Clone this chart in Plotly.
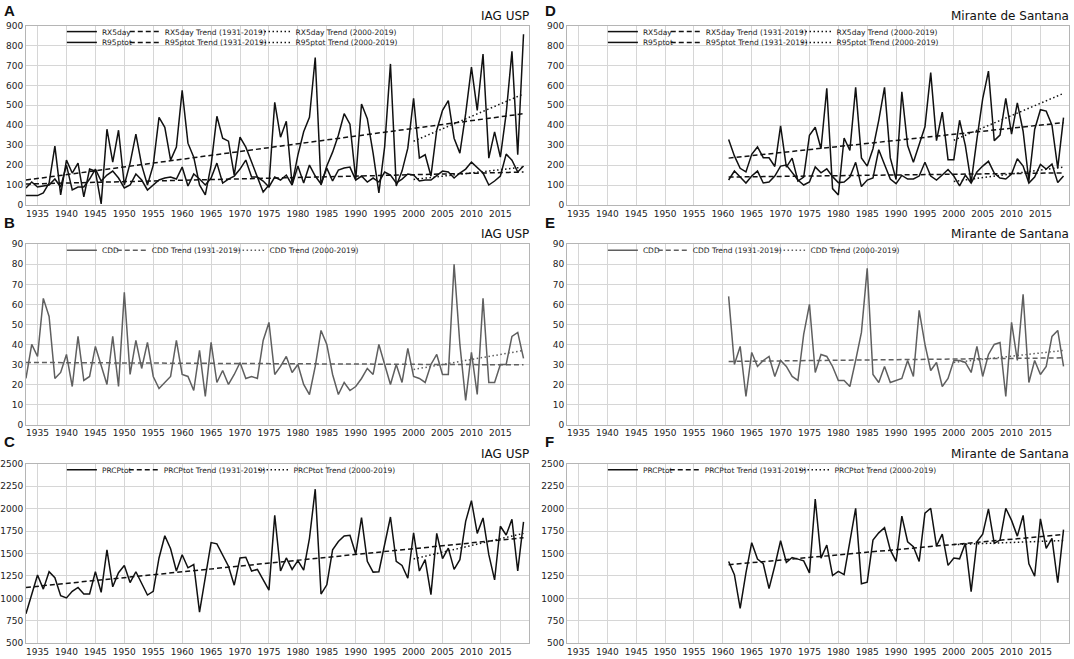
import plotly.graph_objects as go

W, H = 1074, 659

years_iag = list(range(1933, 2020))
years_mir = list(range(1961, 2020))
tick_years = list(range(1935, 2020, 5))
full_iag = [1933, 2019]
full_mir = [1961, 2019]
recent = [2000, 2019]

# --- A: IAG USP, RX5day / R95ptot (1933-2019)
rx5day_iag = [
    85, 115, 90, 95, 100, 130, 90,                      # 1933-1939
    200, 75, 90, 90, 130, 180, 120, 150, 170, 135,      # 1940s
    85, 100, 155, 125, 75, 100, 125, 135, 140, 130,     # 1950s
    190, 95, 155, 130, 100, 135, 210, 110, 130, 145,    # 1960s
    180, 225, 140, 140, 120, 90, 140, 125, 150, 100,    # 1970s
    195, 110, 200, 145, 105, 185, 120, 175, 185, 190,   # 1980s
    125, 145, 115, 135, 115, 165, 150, 110, 130, 155,   # 1990s
    150, 120, 125, 125, 150, 170, 165, 135, 160, 180,   # 2000s
    215, 185, 160, 100, 120, 145, 255, 225, 165, 195,   # 2010s
]
r95ptot_iag = [
    47, 48, 47, 60, 110, 295, 50,
    225, 160, 210, 40, 180, 170, 5, 380, 215, 375,
    100, 210, 355, 200, 100, 200, 440, 390, 225, 290,
    575, 310, 240, 100, 50, 200, 445, 335, 320, 150,
    340, 290, 215, 140, 65, 100, 515, 340, 420, 104,
    250, 367, 440, 740, 100, 195, 265, 350, 458, 405,
    128, 507, 433, 260, 60, 293, 708, 95, 170, 285,
    535, 235, 252, 145, 375, 475, 524, 335, 260, 458,
    692, 475, 758, 235, 367, 240, 458, 771, 252, 857,
]
rx5day_trend_iag = [105, 165]
r95ptot_trend_iag = [125, 458]
rx5day_recent_iag = [128, 190]
r95ptot_recent_iag = [320, 557]

# --- D: Mirante de Santana, RX5day / R95ptot (1961-2019)
rx5day_mir = [
    125, 170, 140, 110, 145, 170, 110, 115, 145, 195,
    200, 165, 125, 100, 115, 191, 161, 181, 142, 112,
    115, 140, 214, 92, 125, 135, 277, 203, 130, 107,
    148, 130, 130, 145, 214, 145, 125, 150, 178, 145,
    96, 150, 110, 165, 195, 219, 160, 135, 130, 155,
    232, 195, 110, 140, 203, 180, 205, 112, 145,
]
r95ptot_mir = [
    328, 246, 184, 166, 254, 291, 237, 237, 193, 397,
    190, 235, 120, 140, 350, 390, 282, 585, 82, 50,
    336, 273, 590, 236, 195, 282, 425, 590, 236, 128,
    568, 298, 214, 300, 392, 664, 323, 466, 227, 227,
    425, 298, 112, 330, 532, 672, 323, 351, 535, 356,
    512, 370, 120, 379, 478, 471, 400, 185, 438,
]
rx5day_trend_mir = [140, 161]
r95ptot_trend_mir = [235, 413]
rx5day_recent_mir = [118, 190]
r95ptot_recent_mir = [325, 560]

# --- B: IAG USP, CDD
cdd_iag = [
    23, 40, 34, 63, 54, 23, 26,
    35, 19, 44, 22, 24, 39, 30, 20, 44, 19,
    66, 25, 42, 28, 41, 24, 18, 21, 24, 42,
    25, 24, 17, 37, 14, 41, 21, 27, 20, 25,
    31, 23, 24, 23, 42, 51, 25, 29, 34, 26,
    30, 20, 15, 29, 47, 40, 25, 15, 21, 17,
    19, 23, 28, 25, 40, 30, 20, 30, 21, 38,
    24, 23, 21, 30, 35, 25, 25, 80, 40, 12,
    36, 15, 63, 21, 21, 30, 30, 44, 46, 33,
]
cdd_trend_iag = [31, 29.8]
cdd_recent_iag = [27.5, 37]

# --- E: Mirante de Santana, CDD
cdd_mir = [
    64, 30, 39, 14, 36, 29, 32, 34, 24, 32,
    29, 24, 22, 45, 60, 26, 35, 34, 29, 22,
    22, 19, 32, 46, 78, 25, 21, 29, 21, 22,
    23, 32, 24, 57, 40, 27, 31, 19, 23, 32,
    32, 31, 26, 39, 24, 35, 40, 41, 14, 51,
    32, 65, 21, 32, 25, 29, 44, 47, 29,
]
cdd_trend_mir = [31.5, 33.3]
cdd_recent_mir = [31, 37]

# --- C: IAG USP, PRCPtot
prcptot_iag = [
    829, 1048, 1260, 1103, 1297, 1231, 1030,
    1005, 1078, 1122, 1048, 1048, 1297, 1067, 1542, 1129, 1286,
    1367, 1176, 1297, 1176, 1037, 1078, 1451, 1699, 1553, 1305,
    1487, 1341, 1378, 847, 1213, 1622, 1608, 1487, 1359, 1147,
    1451, 1458, 1305, 1323, 1206, 1092, 1926, 1305, 1451, 1323,
    1421, 1315, 1670, 2218, 1048, 1151, 1542, 1634, 1696, 1703,
    1494, 1900, 1414, 1293, 1297, 1615, 1908, 1414, 1367, 1224,
    1732, 1305, 1432, 1041, 1725, 1443, 1560, 1323, 1432, 1860,
    2090, 1725, 1897, 1487, 1206, 1805, 1707, 1882, 1305, 1853,
]
prcptot_trend_iag = [1122, 1677]
prcptot_recent_iag = [1440, 1725]

# --- F: Mirante de Santana, PRCPtot
prcptot_mir = [
    1412, 1265, 888, 1284, 1621, 1438, 1386, 1108, 1364, 1643,
    1401, 1456, 1438, 1419, 1284, 2108, 1449, 1595, 1255, 1302,
    1265, 1650, 2005, 1163, 1181, 1650, 1731, 1789, 1540, 1412,
    1918, 1632, 1577, 1412, 1951, 2005, 1584, 1716, 1368, 1449,
    1441, 1614, 1075, 1632, 1716, 1998, 1614, 1650, 2005, 1870,
    1694, 1925, 1386, 1247, 1888, 1559, 1669, 1174, 1767,
]
prcptot_trend_mir = [1375, 1712]
prcptot_recent_mir = [1600, 1645]

BLACK = "#111111"
GREY = "#5f5f5f"
FONT = "DejaVu Sans"
DASH = "5px,3px"
DOT = "1.5px,2.5px"

# panel frames in pixels
left_x = (24, 528)
right_x = (566, 1069)
rows_y = [(21, 203), (243, 426), (466, 648)]
letter_top = [-5, 210, 433]

fig = go.Figure()
n_legends = [0]


def px_x(v):
    return v / W


def px_y(v):
    return 1 - v / H


def add_axes(idx, xs, ys, yrange, dtick):
    suffix = "" if idx == 1 else str(idx)
    common = dict(
        showline=True, linecolor="#b5b5b5", linewidth=1, mirror=True,
        showgrid=True, gridcolor="#d6d6d6", gridwidth=1, zeroline=False,
        ticks="", tickfont=dict(family=FONT, size=9, color="#222"),
    )
    fig.update_layout({
        "xaxis" + suffix: dict(
            domain=[px_x(xs[0]), px_x(xs[1])], anchor="y" + suffix,
            range=[1933, 2019.95], tickvals=tick_years, **common),
        "yaxis" + suffix: dict(
            domain=[px_y(ys[1]), px_y(ys[0])], anchor="x" + suffix,
            range=yrange, dtick=dtick, **common),
    })


def add_line(idx, x, y, name, color, dash, text_x, text_y):
    suffix = "" if idx == 1 else str(idx)
    n_legends[0] += 1
    lid = "legend" if n_legends[0] == 1 else "legend%d" % n_legends[0]
    fig.add_trace(go.Scatter(
        x=x, y=y, mode="lines", name=name,
        line=dict(color=color, width=1.5, dash=dash),
        xaxis="x" + suffix, yaxis="y" + suffix,
        legend=lid, showlegend=True,
    ))
    fig.update_layout({lid: dict(
        x=px_x(text_x - 40), y=px_y(text_y - 4), xanchor="left", yanchor="middle",
        bgcolor="rgba(0,0,0,0)", borderwidth=0, itemwidth=30,
        font=dict(family=FONT, size=7.5, color="#222"),
    )})


def add_labels(letter, title, xs, ys, top):
    fig.add_annotation(
        x=px_x(xs[0] - 24), y=px_y(top), xref="paper", yref="paper",
        text="<b>%s</b>" % letter, showarrow=False, xanchor="left", yanchor="top",
        font=dict(family="Liberation Sans", size=15, color="#111"))
    fig.add_annotation(
        x=px_x(xs[1] + 2), y=px_y(ys[0] - 1), xref="paper", yref="paper",
        text=title, showarrow=False, xanchor="right", yanchor="bottom",
        font=dict(family=FONT, size=12, color="#111"))


# A / D
for idx, xs, yrs, rx, r95, rx_t, r95_t, rx_r, r95_r, full, letter, title in [
    (1, left_x, years_iag, rx5day_iag, r95ptot_iag, rx5day_trend_iag, r95ptot_trend_iag,
     rx5day_recent_iag, r95ptot_recent_iag, full_iag, "A", "IAG USP"),
    (2, right_x, years_mir, rx5day_mir, r95ptot_mir, rx5day_trend_mir, r95ptot_trend_mir,
     rx5day_recent_mir, r95ptot_recent_mir, full_mir, "D", "Mirante de Santana"),
]:
    ys = rows_y[0]
    off = xs[0] - 24
    add_axes(idx, xs, ys, [0, 900], 100)
    add_line(idx, yrs, rx, "RX5day", BLACK, "solid", 100 + off, 31)
    add_line(idx, yrs, r95, "R95ptot", BLACK, "solid", 100 + off, 42)
    add_line(idx, full, rx_t, "RX5day Trend (1931-2019)", BLACK, DASH, 163 + off, 31)
    add_line(idx, full, r95_t, "R95ptot Trend (1931-2019)", BLACK, DASH, 163 + off, 42)
    add_line(idx, recent, rx_r, "RX5day Trend (2000-2019)", BLACK, DOT, 294 + off, 31)
    add_line(idx, recent, r95_r, "R95ptot Trend (2000-2019)", BLACK, DOT, 294 + off, 42)
    add_labels(letter, title, xs, ys, letter_top[0])

# B / E
for idx, xs, yrs, cdd, cdd_t, cdd_r, full, letter, title in [
    (3, left_x, years_iag, cdd_iag, cdd_trend_iag, cdd_recent_iag, full_iag, "B", "IAG USP"),
    (4, right_x, years_mir, cdd_mir, cdd_trend_mir, cdd_recent_mir, full_mir, "E", "Mirante de Santana"),
]:
    ys = rows_y[1]
    off = xs[0] - 24
    add_axes(idx, xs, ys, [0, 90], 10)
    add_line(idx, yrs, cdd, "CDD", GREY, "solid", 100 + off, 253)
    add_line(idx, full, cdd_t, "CDD Trend (1931-2019)", GREY, DASH, 150 + off, 253)
    add_line(idx, recent, cdd_r, "CDD Trend (2000-2019)", GREY, DOT, 268 + off, 253)
    add_labels(letter, title, xs, ys, letter_top[1])

# C / F
for idx, xs, yrs, pr, pr_t, pr_r, full, letter, title in [
    (5, left_x, years_iag, prcptot_iag, prcptot_trend_iag, prcptot_recent_iag, full_iag, "C", "IAG USP"),
    (6, right_x, years_mir, prcptot_mir, prcptot_trend_mir, prcptot_recent_mir, full_mir, "F", "Mirante de Santana"),
]:
    ys = rows_y[2]
    off = xs[0] - 24
    add_axes(idx, xs, ys, [500, 2500], 250)
    add_line(idx, yrs, pr, "PRCPtot", BLACK, "solid", 100 + off, 476)
    add_line(idx, full, pr_t, "PRCPtot Trend (1931-2019)", BLACK, DASH, 162 + off, 476)
    add_line(idx, recent, pr_r, "PRCPtot Trend (2000-2019)", BLACK, DOT, 292 + off, 476)
    add_labels(letter, title, xs, ys, letter_top[2])

fig.update_layout(
    width=W, height=H,
    margin=dict(l=0, r=0, t=0, b=0),
    paper_bgcolor="white", plot_bgcolor="white",
    font=dict(family=FONT, color="#222"),
)

# drop the page's default body margin so the figure fills the window exactly
fig.write_html(
    "out.html",
    config={"displayModeBar": False},
    post_script="document.body.style.margin='0';document.body.style.overflow='hidden';",
)
